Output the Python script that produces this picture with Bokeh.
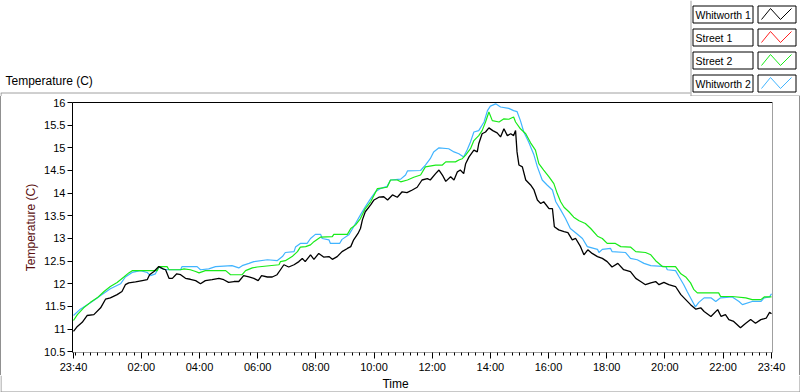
from bokeh.plotting import figure
from bokeh.models import Range1d, FixedTicker, LinearAxis, NumeralTickFormatter, Spacer
from bokeh.layouts import column, row
from bokeh.core.properties import value
from bokeh.embed import file_html
from bokeh.resources import INLINE

# ---------------- data (minutes after 23:40, temperature in C) ----------------
series_names = ["Whitworth 1", "Street 1", "Street 2", "Whitworth 2"]
series_colors = ["#000000", "#ff2020", "#19eb19", "#41b4ff"]

w1_min = [0, 8, 18, 28, 42, 56, 66, 76, 90, 100,
          107, 114, 128, 142, 152, 157, 166, 176, 185, 190,
          197, 204, 213, 221, 231, 241, 252, 262, 272, 286,
          300, 310, 320, 331, 341, 351, 362, 372, 381, 388,
          400, 410, 420, 427, 434, 444, 455, 465, 472, 478,
          489, 496, 506, 516, 527, 534, 544, 554, 565, 572,
          578, 587, 592, 596, 602, 613, 620, 630, 640, 648,
          658, 668, 678, 688, 699, 709, 719, 730, 736, 747,
          754, 761, 768, 778, 785, 792, 798, 805, 809, 816,
          826, 833, 836, 843, 850, 857, 865, 874, 881, 888,
          895, 902, 908, 912, 915, 919, 926, 933, 943, 950,
          957, 964, 970, 981, 988, 992, 1001, 1012, 1020, 1029,
          1036, 1046, 1053, 1061, 1070, 1081, 1091, 1101, 1111, 1123,
          1135, 1149, 1160, 1170, 1180, 1191, 1201, 1208, 1218, 1228,
          1242, 1253, 1263, 1273, 1284, 1294, 1301, 1315, 1329, 1336,
          1345, 1352, 1362, 1376, 1387, 1397, 1407, 1418, 1429, 1436, 1440]
w1_temp = [10.95, 11.06, 11.15, 11.30, 11.32, 11.47, 11.66, 11.69, 11.76, 11.83,
           11.98, 12.02, 12.04, 12.07, 12.09, 12.20, 12.27, 12.38, 12.33, 12.31,
           12.12, 12.12, 12.22, 12.20, 12.12, 12.10, 12.07, 12.00, 12.07, 12.09,
           12.12, 12.09, 12.03, 12.05, 12.05, 12.18, 12.15, 12.12, 12.07, 12.18,
           12.15, 12.15, 12.20, 12.31, 12.42, 12.37, 12.42, 12.49, 12.56, 12.49,
           12.64, 12.54, 12.67, 12.59, 12.60, 12.54, 12.60, 12.71, 12.78, 12.82,
           12.97, 13.11, 13.22, 13.41, 13.59, 13.74, 13.85, 13.91, 13.92, 13.85,
           13.96, 13.91, 14.03, 14.01, 14.07, 14.13, 14.29, 14.32, 14.29, 14.43,
           14.51, 14.40, 14.26, 14.36, 14.29, 14.47, 14.51, 14.43, 14.65, 14.80,
           14.95, 14.91, 15.09, 15.31, 15.35, 15.44, 15.38, 15.33, 15.24, 15.42,
           15.27, 15.31, 15.27, 15.38, 14.91, 14.62, 14.58, 14.29, 14.18, 14.07,
           13.85, 13.77, 13.81, 13.66, 13.66, 13.26, 13.19, 13.15, 13.13, 12.97,
           13.00, 12.82, 12.64, 12.75, 12.67, 12.60, 12.56, 12.49, 12.37, 12.45,
           12.31, 12.27, 12.12, 12.05, 11.98, 12.02, 12.05, 11.98, 12.03, 11.98,
           11.94, 11.76, 11.65, 11.54, 11.44, 11.47, 11.39, 11.28, 11.43, 11.28,
           11.32, 11.21, 11.17, 11.03, 11.13, 11.21, 11.13, 11.21, 11.24, 11.37, 11.34]

s1_min = []   # Street 1: no trace visible in the chart
s1_temp = []

s2_min = [0, 8, 21, 35, 49, 63, 76, 90, 104, 114,
          121, 173, 176, 193, 197, 221, 228, 241, 252, 259,
          272, 314, 324, 348, 355, 369, 379, 424, 427, 437,
          451, 462, 468, 479, 489, 496, 510, 534, 537, 565,
          572, 582, 592, 602, 613, 627, 647, 654, 668, 675,
          689, 702, 716, 726, 747, 761, 768, 788, 795, 802,
          809, 819, 826, 836, 843, 850, 857, 864, 878, 888,
          898, 908, 912, 922, 933, 943, 953, 960, 970, 981,
          991, 998, 1005, 1012, 1022, 1032, 1043, 1056, 1067, 1081,
          1091, 1101, 1118, 1129, 1149, 1160, 1180, 1191, 1201, 1215,
          1242, 1253, 1263, 1273, 1280, 1287, 1331, 1335, 1359, 1387,
          1400, 1418, 1425, 1440]
s2_temp = [11.19, 11.32, 11.47, 11.59, 11.69, 11.83, 11.94, 12.03, 12.15, 12.24,
           12.29, 12.29, 12.38, 12.38, 12.31, 12.31, 12.33, 12.31, 12.27, 12.24,
           12.29, 12.29, 12.20, 12.20, 12.29, 12.35, 12.37, 12.42, 12.49, 12.51,
           12.60, 12.71, 12.81, 12.82, 12.86, 12.93, 13.03, 13.04, 13.09, 13.09,
           13.22, 13.30, 13.44, 13.66, 13.81, 14.10, 14.13, 14.29, 14.29, 14.25,
           14.29, 14.35, 14.40, 14.58, 14.62, 14.62, 14.69, 14.69, 14.73, 14.76,
           14.84, 14.98, 15.16, 15.27, 15.38, 15.57, 15.79, 15.60, 15.57, 15.64,
           15.63, 15.68, 15.57, 15.42, 15.31, 15.11, 14.95, 14.65, 14.51, 14.36,
           14.21, 13.99, 13.81, 13.69, 13.59, 13.47, 13.39, 13.33, 13.22, 13.05,
           13.00, 12.89, 12.89, 12.82, 12.81, 12.71, 12.69, 12.64, 12.51, 12.38,
           12.38, 12.22, 12.15, 12.02, 11.87, 11.80, 11.80, 11.72, 11.72, 11.69,
           11.65, 11.65, 11.71, 11.71]

w2_min = [0, 14, 35, 56, 76, 97, 107, 121, 138, 152,
          159, 169, 176, 186, 197, 221, 224, 241, 255, 262,
          279, 293, 327, 341, 348, 362, 372, 400, 420, 431,
          437, 455, 458, 468, 482, 489, 499, 510, 513, 527,
          530, 549, 554, 568, 578, 592, 602, 613, 623, 633,
          647, 654, 675, 685, 689, 716, 726, 736, 743, 754,
          774, 785, 795, 805, 812, 819, 826, 836, 847, 854,
          860, 871, 881, 898, 908, 915, 922, 929, 939, 950,
          957, 967, 977, 988, 995, 1005, 1015, 1025, 1039, 1050,
          1060, 1081, 1084, 1091, 1108, 1111, 1139, 1149, 1163, 1177,
          1191, 1222, 1225, 1242, 1249, 1259, 1266, 1277, 1283, 1290,
          1301, 1315, 1325, 1335, 1359, 1373, 1380, 1400, 1418, 1425,
          1436, 1440]
w2_temp = [11.30, 11.44, 11.58, 11.74, 11.89, 12.00, 12.15, 12.25, 12.29, 12.25,
           12.18, 12.22, 12.37, 12.32, 12.31, 12.31, 12.38, 12.38, 12.38, 12.31,
           12.33, 12.38, 12.40, 12.35, 12.40, 12.45, 12.49, 12.53, 12.51, 12.60,
           12.69, 12.71, 12.81, 12.89, 12.89, 13.00, 13.09, 13.09, 13.00, 12.97,
           12.89, 12.89, 12.98, 13.08, 13.26, 13.52, 13.70, 13.88, 14.03, 14.10,
           14.15, 14.29, 14.31, 14.40, 14.49, 14.50, 14.62, 14.76, 14.91, 15.00,
           14.98, 14.91, 14.87, 14.80, 14.95, 15.13, 15.35, 15.38, 15.57, 15.82,
           15.92, 15.97, 15.90, 15.87, 15.82, 15.80, 15.60, 15.35, 15.13, 14.84,
           14.58, 14.29, 14.18, 14.07, 13.81, 13.63, 13.44, 13.22, 13.10, 13.00,
           12.82, 12.76, 12.69, 12.76, 12.78, 12.71, 12.69, 12.56, 12.53, 12.45,
           12.40, 12.38, 12.31, 12.29, 12.16, 11.98, 11.83, 11.61, 11.49, 11.59,
           11.69, 11.69, 11.61, 11.69, 11.71, 11.61, 11.54, 11.61, 11.61, 11.69,
           11.71, 11.78]

x_tick_minutes = [0, 140, 260, 380, 500, 620, 740, 860, 980, 1100, 1220, 1340, 1440]
x_tick_labels = ["23:40", "02:00", "04:00", "06:00", "08:00", "10:00", "12:00",
                 "14:00", "16:00", "18:00", "20:00", "22:00", "23:40"]
x_minor_minutes = [m for m in range(5, 1440, 15) if m not in x_tick_minutes]
y_ticks = [10.5, 11, 11.5, 12, 12.5, 13, 13.5, 14, 14.5, 15, 15.5, 16]

FONT = "Liberation Sans"
GRAY = "#a0a0a0"
EDGE = "#909090"
W = 800


def panel_fig(height):
    """A decoration strip whose data units are its own pixels (y downward)."""
    f = figure(width=W, height=height, x_range=Range1d(0, W), y_range=Range1d(height, 0),
               output_backend="svg", toolbar_location=None,
               x_axis_location=None, y_axis_location=None,
               min_border=0, min_border_left=0, min_border_right=0,
               min_border_top=0, min_border_bottom=0)
    f.outline_line_color = None
    f.grid.visible = False
    f.background_fill_color = "white"
    f.border_fill_color = "white"
    return f


# ---------------- header: title + legend ----------------
HEAD_H = 96
head = panel_fig(HEAD_H)
head.text(x=[5], y=[80], text=["Temperature (C)"], text_font=value(FONT),
          text_font_size="12px", text_color="black", text_baseline="middle")
head.segment(x0=[0, 690.5, 690], y0=[92.5, 0, 95.5],
             x1=[690, 690.5, W], y1=[92.5, 95.5, 95.5],
             line_color=GRAY, line_width=1)
head.segment(x0=[0.5, 799.5], y0=[92.5, 95.5], x1=[0.5, 799.5], y1=[HEAD_H, HEAD_H],
             line_color=EDGE, line_width=1)

row_tops = [5, 28, 51, 74]
box_h = 17
head.quad(left=[692.5] * 4, right=[752.5] * 4,
          top=[t + 0.5 for t in row_tops], bottom=[t + box_h + 0.5 for t in row_tops],
          fill_color="white", line_color="black", line_width=1)
head.quad(left=[757.5] * 4, right=[795.5] * 4,
          top=[t + 0.5 for t in row_tops], bottom=[t + box_h + 0.5 for t in row_tops],
          fill_color="white", line_color="black", line_width=1)
head.text(x=[695] * 4, y=[t + 9 for t in row_tops], text=series_names, text_font=value(FONT),
          text_font_size="10.5px", text_color="black", text_baseline="middle")
zig_x = [761, 770, 780, 791]
for color, top in zip(series_colors, row_tops):
    zig_y = [top + box_h - 3, top + 3, top + box_h - 3, top + 3]
    head.line(zig_x, zig_y, line_color=color, line_width=1)

# ---------------- main chart ----------------
MAIN_H = 279
X0, X1 = -2.06, 1442.06
Y0, Y1 = 10.484, 16.0
p = figure(width=W - 2, height=MAIN_H, x_range=Range1d(X0, X1), y_range=Range1d(Y0, Y1),
           output_backend="svg", toolbar_location=None,
           min_border_left=71, min_border_right=27, min_border_top=6, min_border_bottom=22)
p.outline_line_color = None
p.grid.visible = False
p.background_fill_color = "white"
p.border_fill_color = "white"

ya = p.yaxis[0]
ya.ticker = FixedTicker(ticks=y_ticks, minor_ticks=[])
ya.formatter = NumeralTickFormatter(format="0.[0]")
ya.major_tick_out = 5
ya.major_tick_in = 0
ya.minor_tick_line_color = None
ya.axis_line_color = "black"
ya.major_tick_line_color = "black"
ya.major_label_standoff = 2
ya.major_label_text_font = FONT
ya.major_label_text_font_size = "11px"
ya.major_label_text_color = "black"
ya.axis_label = "Temperature (C)"
ya.axis_label_standoff = 3
ya.axis_label_text_font = FONT
ya.axis_label_text_font_size = "12px"
ya.axis_label_text_font_style = "normal"
ya.axis_label_text_color = "#5a0f0f"

xa = p.xaxis[0]
xa.ticker = FixedTicker(ticks=x_tick_minutes, minor_ticks=x_minor_minutes)
xa.major_label_overrides = dict(zip(x_tick_minutes, x_tick_labels))
xa.major_tick_out = 6
xa.major_tick_in = 0
xa.minor_tick_out = 3
xa.minor_tick_in = 0
xa.axis_line_color = GRAY
xa.major_tick_line_color = "black"
xa.minor_tick_line_color = "black"
xa.major_label_standoff = 2
xa.major_label_text_font = FONT
xa.major_label_text_font_size = "11px"
xa.major_label_text_color = "black"

ra = LinearAxis(ticker=FixedTicker(ticks=[]), axis_line_color=GRAY,
                major_tick_line_color=None, minor_tick_line_color=None,
                major_tick_out=0, major_label_standoff=0)
p.add_layout(ra, "right")
ta = LinearAxis(ticker=FixedTicker(ticks=[]), axis_line_color="black",
                major_tick_line_color=None, minor_tick_line_color=None,
                major_tick_out=0, major_label_standoff=0)
p.add_layout(ta, "above")

p.line(w2_min, w2_temp, line_color=series_colors[3], line_width=1.2)
p.line(s2_min, s2_temp, line_color=series_colors[2], line_width=1.2)
p.line(w1_min, w1_temp, line_color=series_colors[0], line_width=1.3)

# panel side edges next to the chart
edge_l = Spacer(width=1, height=MAIN_H, styles={"background-color": EDGE})
edge_r = Spacer(width=1, height=MAIN_H, styles={"background-color": EDGE})

# ---------------- footer: x axis title + panel bottom ----------------
FOOT_H = 17
foot = panel_fig(FOOT_H)
foot.text(x=[395], y=[8], text=["Time"], text_font=value(FONT), text_font_size="12px",
          text_color="black", text_baseline="middle", text_align="center")
foot.segment(x0=[0, 0.5, 799.5], y0=[16.5, 0, 0], x1=[W, 0.5, 799.5], y1=[16.5, 16.5, 16.5],
             line_color=EDGE, line_width=1)

layout = column(head, row(edge_l, column(p, spacing=0), edge_r, spacing=0), foot, spacing=0)

open("out.html", "w").write(file_html(layout, INLINE))
